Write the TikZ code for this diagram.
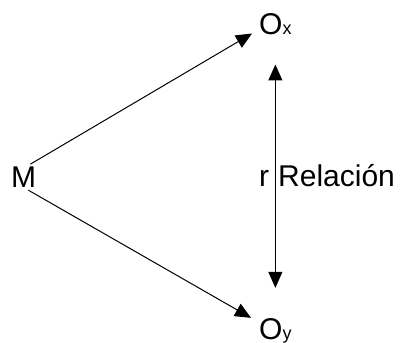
\documentclass[tikz,border=0pt]{standalone}
\usepackage{fontspec}
\setmainfont{Liberation Sans}
\usetikzlibrary{arrows.meta,calc}
\newcommand{\obsidx}[1]{{\fontsize{18}{20}\selectfont #1}}
\begin{document}
\begin{tikzpicture}[
  x=1pt,y=-1pt,
  lbl/.style={inner sep=0pt, anchor=base west, font=\fontsize{30}{36}\selectfont},
  arr/.style={-{Triangle[length=16pt,width=14pt]}, line width=1pt},
  dbl/.style={{Triangle[length=16pt,width=14pt]}-{Triangle[length=16pt,width=14pt]}, line width=1pt}
]
\fill[white] (0,0) rectangle (403,342);
\useasboundingbox (0,0) rectangle (403,342);
\node[lbl] (M) at (11,187) {M};
\node[lbl] (Ox) at (259,35) {O\obsidx{x}};
\node[lbl] (Oy) at (259,339) {O\obsidx{y}};
\node[lbl] (r) at (259,186) {r};
\node[lbl] (rel) at (278,186) {Relación};
\draw[arr] ($(M.north east)+(-6,-2)$) -- ($(Ox.south west)+(-7,-2)$);
\draw[arr] ($(M.south east)+(-8,3)$) -- ($(Oy.north west)+(-8,0)$);
\draw[dbl] ($(Oy.north)+(0,-30)$) -- ($(Ox.south)+(0,29)$);
\end{tikzpicture}
\end{document}
